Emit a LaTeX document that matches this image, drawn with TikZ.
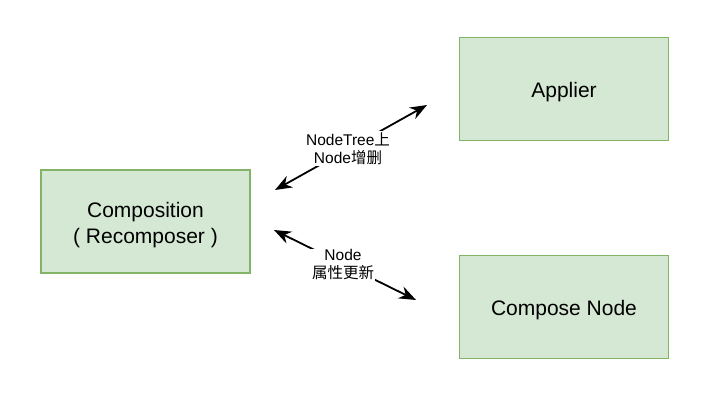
\documentclass[tikz,border=0pt]{standalone}
\usepackage{fontspec}
\setmainfont{Liberation Sans}
\newfontfamily\cjk{Noto Sans CJK SC}
\usetikzlibrary{arrows.meta}
\definecolor{boxfill}{HTML}{D5E8D4}
\definecolor{boxline}{HTML}{82B366}
\begin{document}
\begin{tikzpicture}[x=1pt,y=-1pt,
  greenbox/.style={draw=boxline,fill=boxfill,line width=1.6pt,minimum width=209pt,minimum height=103pt,inner sep=0pt,align=center,font=\fontsize{21}{26}\selectfont},
  txt/.style={align=center,font=\fontsize{21}{26}\selectfont},
  link/.style={line width=1.8pt,{Stealth[length=17pt,width=13pt]}-{Stealth[length=17pt,width=13pt]}},
  lbl/.style={fill=white,inner sep=1pt,align=center,font=\fontsize{15.5}{18}\selectfont}]
\useasboundingbox (0,0) rectangle (722,401);
\node[greenbox] (comp) at (145.5,221.5) {};
\node[txt] (compt) at (145.5,225) {Composition\\( Recomposer )};
\node[greenbox] (app) at (564,89) {};
\node[txt] (appt) at (564,92) {Applier};
\node[greenbox] (cn) at (564,307) {};
\node[txt] (cnt) at (564,310) {Compose Node};
\coordinate (a1) at (275,190);
\coordinate (a2) at (427,105);
\coordinate (b1) at (274,230);
\coordinate (b2) at (416,300);
\draw[link] (a1) -- (a2) node[lbl,midway,xshift=-3pt,yshift=-1pt] (l1) {NodeTree{\cjk 上}\\Node{\cjk 增删}};
\draw[link] (b1) -- (b2) node[lbl,midway,xshift=-2pt,yshift=0pt] (l2) {Node\\{\cjk 属性更新}};
\end{tikzpicture}
\end{document}
